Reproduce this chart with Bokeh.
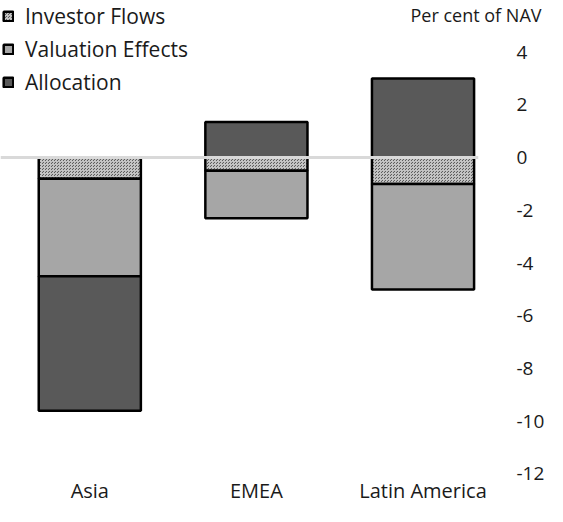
from bokeh.plotting import figure
from bokeh.models import Range1d, FixedTicker, Legend, LegendItem, Span, Title, ColumnDataSource
from bokeh.embed import file_html
from bokeh.resources import INLINE

regions = ["Asia", "EMEA", "Latin America"]
investor_flows = [-0.8, -0.5, -1.0]
valuation_effects = [-3.7, -1.8, -4.0]
allocation = [-5.1, 1.35, 3.0]
y_ticks = [4, 2, 0, -2, -4, -6, -8, -10, -12]

FONT = "Open Sans"
TXT = "#1a1a1a"

xs = list(range(len(regions)))
# stacking: positives up from 0, negatives down from 0, in series order
pos = [0.0] * len(regions)
neg = [0.0] * len(regions)
stacks = {}
for name, vals in [("inv", investor_flows), ("val", valuation_effects), ("alloc", allocation)]:
    bots, tops = [], []
    for i, v in enumerate(vals):
        if v >= 0:
            bots.append(pos[i]); tops.append(pos[i] + v); pos[i] += v
        else:
            tops.append(neg[i]); bots.append(neg[i] + v); neg[i] += v
    stacks[name] = ColumnDataSource(dict(x=xs, bottom=bots, top=tops))

p = figure(width=547, height=506, output_backend="svg", toolbar_location=None,
           x_range=Range1d(-0.536, 2.333), y_range=Range1d(-12.02, 5.96),
           y_axis_location="right", min_border_left=0, min_border_top=0,
           min_border_right=65, min_border_bottom=27)
p.outline_line_color = None
p.grid.visible = False
p.background_fill_color = "white"

zero = Span(location=0, dimension="width", line_color="#d9d9d9", line_width=3)
p.add_layout(zero)

w = 0.613
r_inv = p.vbar(x="x", bottom="bottom", top="top", width=w, source=stacks["inv"],
               fill_color="#5e5e5e", hatch_pattern="criss_cross", hatch_color="#c4c4c4",
               hatch_scale=3, hatch_weight=1, line_color="black", line_width=2.5)
r_val = p.vbar(x="x", bottom="bottom", top="top", width=w, source=stacks["val"],
               fill_color="#a6a6a6", line_color="black", line_width=2.5)
r_alloc = p.vbar(x="x", bottom="bottom", top="top", width=w, source=stacks["alloc"],
                 fill_color="#595959", line_color="black", line_width=2.5)

yax = p.yaxis[0]
yax.ticker = FixedTicker(ticks=y_ticks)
yax.major_label_overrides = {t: str(t) for t in y_ticks}
yax.axis_line_color = None
yax.major_tick_line_color = None
yax.minor_tick_line_color = None
yax.major_tick_out = 0
yax.major_tick_in = 0
yax.major_label_standoff = 38
yax.major_label_text_font = FONT
yax.major_label_text_font_size = "19px"
yax.major_label_text_color = TXT

xax = p.xaxis[0]
xax.ticker = FixedTicker(ticks=xs)
xax.major_label_overrides = {i: r for i, r in enumerate(regions)}
xax.axis_line_color = None
xax.major_tick_line_color = None
xax.minor_tick_line_color = None
xax.major_tick_out = 0
xax.major_tick_in = 0
xax.major_label_standoff = 2
xax.major_label_text_font = FONT
xax.major_label_text_font_size = "20px"
xax.major_label_text_color = TXT

legend = Legend(items=[
    LegendItem(label="Investor Flows", renderers=[r_inv]),
    LegendItem(label="Valuation Effects", renderers=[r_val]),
    LegendItem(label="Allocation", renderers=[r_alloc]),
], location="top_left", margin=2, padding=0, spacing=5,
   glyph_width=12, glyph_height=12, label_standoff=11,
   label_text_font=FONT, label_text_font_size="21px", label_text_color=TXT,
   background_fill_alpha=0, border_line_color=None, label_height=24)
p.add_layout(legend)

unit_title = Title(text="Per cent of NAV", align="right", vertical_align="bottom",
                   offset=-63, standoff=-52,
                   text_font=FONT, text_font_size="18px", text_font_style="normal",
                   text_color=TXT)
p.add_layout(unit_title, "above")

open("out.html", "w").write(file_html(p, INLINE))
